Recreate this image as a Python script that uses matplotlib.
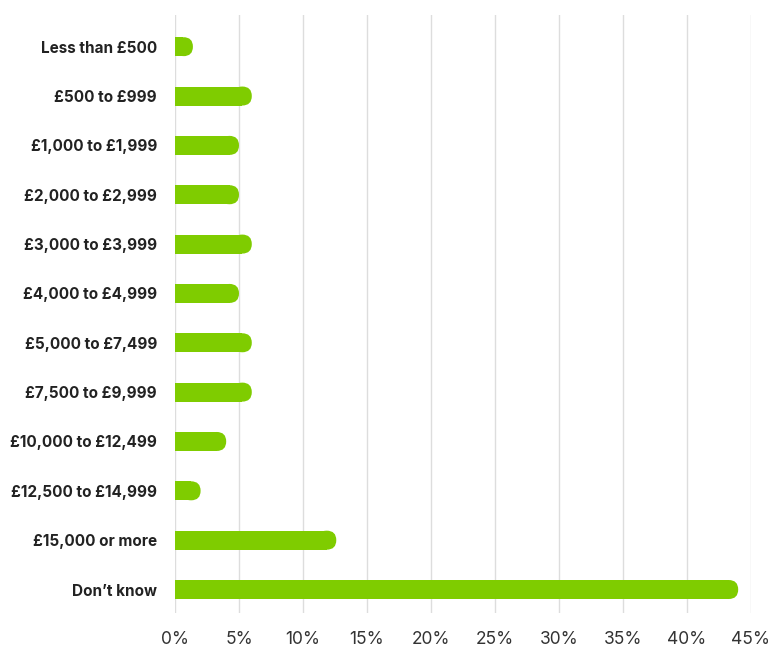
import matplotlib
matplotlib.use("Agg")
import matplotlib.pyplot as plt
from matplotlib.patches import FancyBboxPatch
from matplotlib.ticker import FuncFormatter

categories = [
    "Less than £500", "£500 to £999", "£1,000 to £1,999", "£2,000 to £2,999",
    "£3,000 to £3,999", "£4,000 to £4,999", "£5,000 to £7,499", "£7,500 to £9,999",
    "£10,000 to £12,499", "£12,500 to £14,999", "£15,000 or more", "Don\u2019t know",
]
values = [1.4, 6, 5, 5, 6, 5, 6, 6, 4, 2, 12.6, 44]
ticks = [0, 5, 10, 15, 20, 25, 30, 35, 40, 45]

plt.rcParams["font.family"] = ["Inter", "DejaVu Sans"]

W, H, DPI = 772, 649, 100
fig = plt.figure(figsize=(W / DPI, H / DPI), dpi=DPI)
left_px, right_px, top_px, bottom_px = 175, 751, 15, 613
ax = fig.add_axes([left_px / W, 1 - bottom_px / H,
                   (right_px - left_px) / W, (bottom_px - top_px) / H])

xmin, xmax = 0, 45
ymin, ymax = -0.642, len(categories) - 1 + 0.476
ax.set_xlim(xmin, xmax)
ax.set_ylim(ymax, ymin)

color = "#7fcc00"
bar_h = 0.385

# pixel -> data conversions for round caps
x_per_px = (xmax - xmin) / (right_px - left_px)
y_per_px = (ymax - ymin) / (bottom_px - top_px)
r = (bar_h / y_per_px) / 2 * x_per_px
aspect = y_per_px / x_per_px

for i, v in enumerate(values):
    ax.barh(i, max(v - r, 0), height=bar_h, color=color, zorder=3)
    cap_start = max(v - 2 * r, 0)
    ax.add_patch(FancyBboxPatch((cap_start, i - bar_h / 2), v - cap_start, bar_h,
                                boxstyle=f"round,pad=0,rounding_size={r}",
                                mutation_aspect=aspect, fc=color, ec="none", zorder=3))

ax.set_yticks(range(len(categories)))
ax.set_yticklabels(categories, fontsize=11, fontweight="bold", color="#222222")
ax.set_xticks(ticks)
ax.xaxis.set_major_formatter(FuncFormatter(lambda v, p: f"{v:.0f}%"))
ax.tick_params(axis="x", length=0, pad=13, labelsize=12.5, labelcolor="#333333")
ax.tick_params(axis="y", length=0, pad=13)
ax.grid(axis="x", color="#dddddd", linewidth=1, zorder=0)
for s in ax.spines.values():
    s.set_visible(False)

fig.savefig("out.png", dpi=DPI)
